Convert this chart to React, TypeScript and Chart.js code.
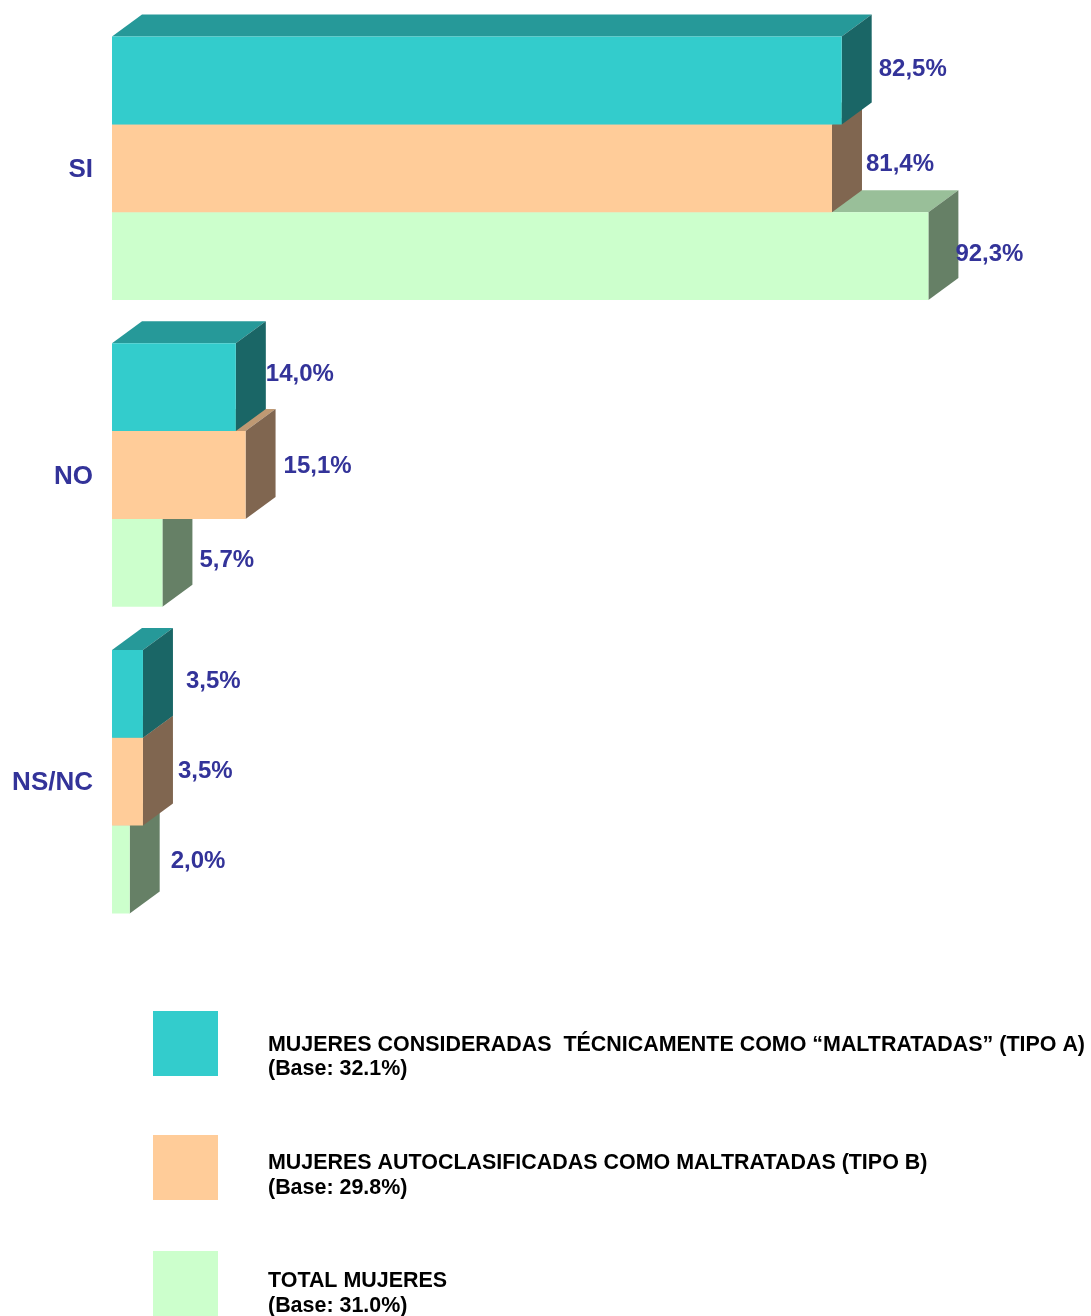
import React, { useEffect, useRef } from "react";
import { Chart, registerables } from "chart.js";

Chart.register(...registerables);

const categories = ["SI", "NO", "NS/NC"];
const tipoA = [82.5, 14.0, 3.5];
const tipoB = [81.4, 15.1, 3.5];
const total = [92.3, 5.7, 2.0];
const seriesNames = ["TIPO A", "TIPO B", "TOTAL"];
const legendLines = [
  ["MUJERES CONSIDERADAS  TÉCNICAMENTE COMO “MALTRATADAS” (TIPO A)", "(Base: 32.1%)"],
  ["MUJERES AUTOCLASIFICADAS COMO MALTRATADAS (TIPO B)", "(Base: 29.8%)"],
  ["TOTAL MUJERES", "(Base: 31.0%)"],
];

const FONT = '"Liberation Sans", Arial, sans-serif';
const NAVY = "#333399";
const FRONT = ["#33CCCC", "#FFCC99", "#CCFFCC"];
const TOP = ["#269999", "#BF9973", "#99BF99"];
const SIDE = ["#1A6666", "#806650", "#668066"];
const DEPTH_X = 30;
const DEPTH_Y = 22;
// label placement relative to the end of each bar [dx, dy], per series then per category
const LABEL_NUDGE = [
  [[37, -11], [30, -13], [43, -12]],
  [[34, -4], [38, -9], [35, -10]],
  [[27, -2], [37, -2], [41, -8]],
];
const LEGEND_BOX_Y = [1011, 1135, 1251];
const LEGEND_BASE_Y = [1051, 1169, 1287];
const LEGEND_BASE2_Y = [1075, 1194, 1312];

const poly = (ctx: CanvasRenderingContext2D, pts: number[][], fill: string) => {
  ctx.beginPath();
  pts.forEach(([x, y], i) => (i ? ctx.lineTo(x, y) : ctx.moveTo(x, y)));
  ctx.closePath();
  ctx.fillStyle = fill;
  ctx.fill();
};

const faces3d = {
  id: "faces3d",
  beforeDatasetsDraw(chart: any) {
    const ctx = chart.ctx;
    ctx.save();
    for (let d = chart.data.datasets.length - 1; d >= 0; d--) {
      chart.getDatasetMeta(d).data.forEach((bar: any) => {
        const { x, y, base, height } = bar.getProps(["x", "y", "base", "height"], true);
        const t = y - height / 2;
        const b = y + height / 2;
        poly(ctx, [[base, t], [x, t], [x + DEPTH_X, t - DEPTH_Y], [base + DEPTH_X, t - DEPTH_Y]], TOP[d]);
        poly(ctx, [[x, t], [x + DEPTH_X, t - DEPTH_Y], [x + DEPTH_X, b - DEPTH_Y], [x, b]], SIDE[d]);
      });
    }
    ctx.restore();
  },
};

const valueLabels = {
  id: "valueLabels",
  afterDatasetsDraw(chart: any) {
    const ctx = chart.ctx;
    ctx.save();
    ctx.font = `bold 24px ${FONT}`;
    ctx.fillStyle = NAVY;
    ctx.textAlign = "left";
    ctx.textBaseline = "middle";
    chart.data.datasets.forEach((ds: any, d: number) => {
      chart.getDatasetMeta(d).data.forEach((bar: any, i: number) => {
        const [dx, dy] = LABEL_NUDGE[d][i];
        const text = ds.data[i].toFixed(1).replace(".", ",") + "%";
        ctx.fillText(text, bar.x + dx, bar.y + dy);
      });
    });
    ctx.restore();
  },
};

const legendBlock = {
  id: "legendBlock",
  afterDraw(chart: any) {
    const ctx = chart.ctx;
    ctx.save();
    ctx.textAlign = "left";
    ctx.textBaseline = "alphabetic";
    ctx.font = `bold 21.45px ${FONT}`;
    legendLines.forEach((lines, i) => {
      ctx.fillStyle = FRONT[i];
      ctx.fillRect(153, LEGEND_BOX_Y[i], 65, 65);
      ctx.fillStyle = "#000000";
      ctx.fillText(lines[0], 268, LEGEND_BASE_Y[i]);
      ctx.fillText(lines[1], 268, LEGEND_BASE2_Y[i]);
    });
    ctx.restore();
  },
};

export default function App() {
  const ref = useRef<HTMLCanvasElement>(null);
  useEffect(() => {
    const series = [tipoA, tipoB, total];
    const chart = new Chart(ref.current!, {
      type: "bar",
      data: {
        labels: categories,
        datasets: series.map((data, i) => ({
          label: seriesNames[i],
          data,
          backgroundColor: FRONT[i],
          borderWidth: 0,
          categoryPercentage: 0.859,
          barPercentage: 1,
        })),
      },
      options: {
        indexAxis: "y",
        responsive: false,
        animation: false,
        layout: { padding: { top: 15, bottom: 381, left: 0, right: 94.5 } },
        plugins: { legend: { display: false }, tooltip: { enabled: false } },
        scales: {
          x: { display: false, min: 0, max: 100 },
          y: {
            afterFit(scale: any) {
              scale.width = 112;
              scale.paddingTop = 0;
              scale.paddingBottom = 0;
            },
            grid: { display: false, drawTicks: false },
            border: { display: false },
            ticks: {
              color: NAVY,
              padding: 19,
              labelOffset: 1.5,
              font: { family: FONT, size: 26, weight: "bold" },
            },
          },
        },
      },
      plugins: [faces3d, valueLabels, legendBlock],
    } as any);
    return () => chart.destroy();
  }, []);
  return (
    <div style={{ position: "absolute", left: 0, top: 0, background: "#fff" }}>
      <canvas ref={ref} width={1091} height={1316} style={{ display: "block" }} />
    </div>
  );
}
